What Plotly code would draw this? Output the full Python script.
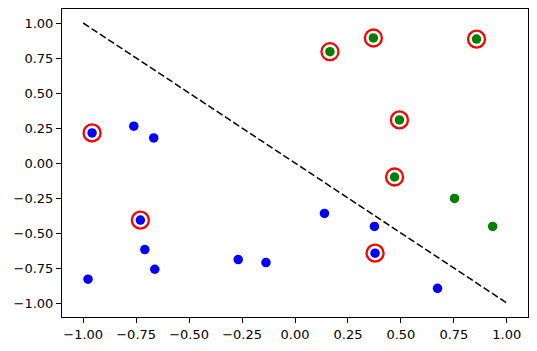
import plotly.graph_objects as go

# Data
blue_x = [-0.958, -0.761, -0.667, -0.730, -0.709, -0.662, -0.977, -0.268, -0.137, 0.139, 0.375, 0.378, 0.673]
blue_y = [0.215, 0.263, 0.179, -0.408, -0.618, -0.759, -0.830, -0.690, -0.711, -0.360, -0.453, -0.644, -0.895]
green_x = [0.165, 0.370, 0.857, 0.493, 0.470, 0.753, 0.933]
green_y = [0.795, 0.893, 0.885, 0.308, -0.100, -0.253, -0.453]
sv_x = [-0.958, -0.730, 0.378, 0.165, 0.370, 0.857, 0.493, 0.470]
sv_y = [0.215, -0.408, -0.644, 0.795, 0.893, 0.885, 0.308, -0.100]
line_x = [-1.0, 1.0]
line_y = [1.0, -1.0]
tick_vals = [-1.0, -0.75, -0.5, -0.25, 0.0, 0.25, 0.5, 0.75, 1.0]

fig = go.Figure()
fig.add_trace(go.Scatter(x=line_x, y=line_y, mode="lines",
                         line=dict(color="black", width=1.5, dash="7px,3px"),
                         showlegend=False))
fig.add_trace(go.Scatter(x=blue_x, y=blue_y, mode="markers",
                         marker=dict(color="blue", size=9.5, line=dict(width=0)),
                         showlegend=False))
fig.add_trace(go.Scatter(x=green_x, y=green_y, mode="markers",
                         marker=dict(color="green", size=9.5, line=dict(width=0)),
                         showlegend=False))
fig.add_trace(go.Scatter(x=sv_x, y=sv_y, mode="markers",
                         marker=dict(symbol="circle-open", color="red", size=17,
                                     line=dict(color="red", width=2.3)),
                         showlegend=False))

axis_common = dict(range=[-1.1, 1.1], showgrid=False, zeroline=False,
                   showline=True, linecolor="black", linewidth=1, mirror=True,
                   ticks="outside", ticklen=5, tickwidth=1, tickcolor="black",
                   tickvals=tick_vals, tickformat=".2f",
                   tickfont=dict(family="DejaVu Sans", size=13, color="black"))
fig.update_xaxes(**axis_common)
fig.update_yaxes(**axis_common)
fig.update_layout(width=529, height=343,
                  margin=dict(l=54, r=9, t=1, b=34),
                  plot_bgcolor="white", paper_bgcolor="white")
fig.write_html("out.html")
